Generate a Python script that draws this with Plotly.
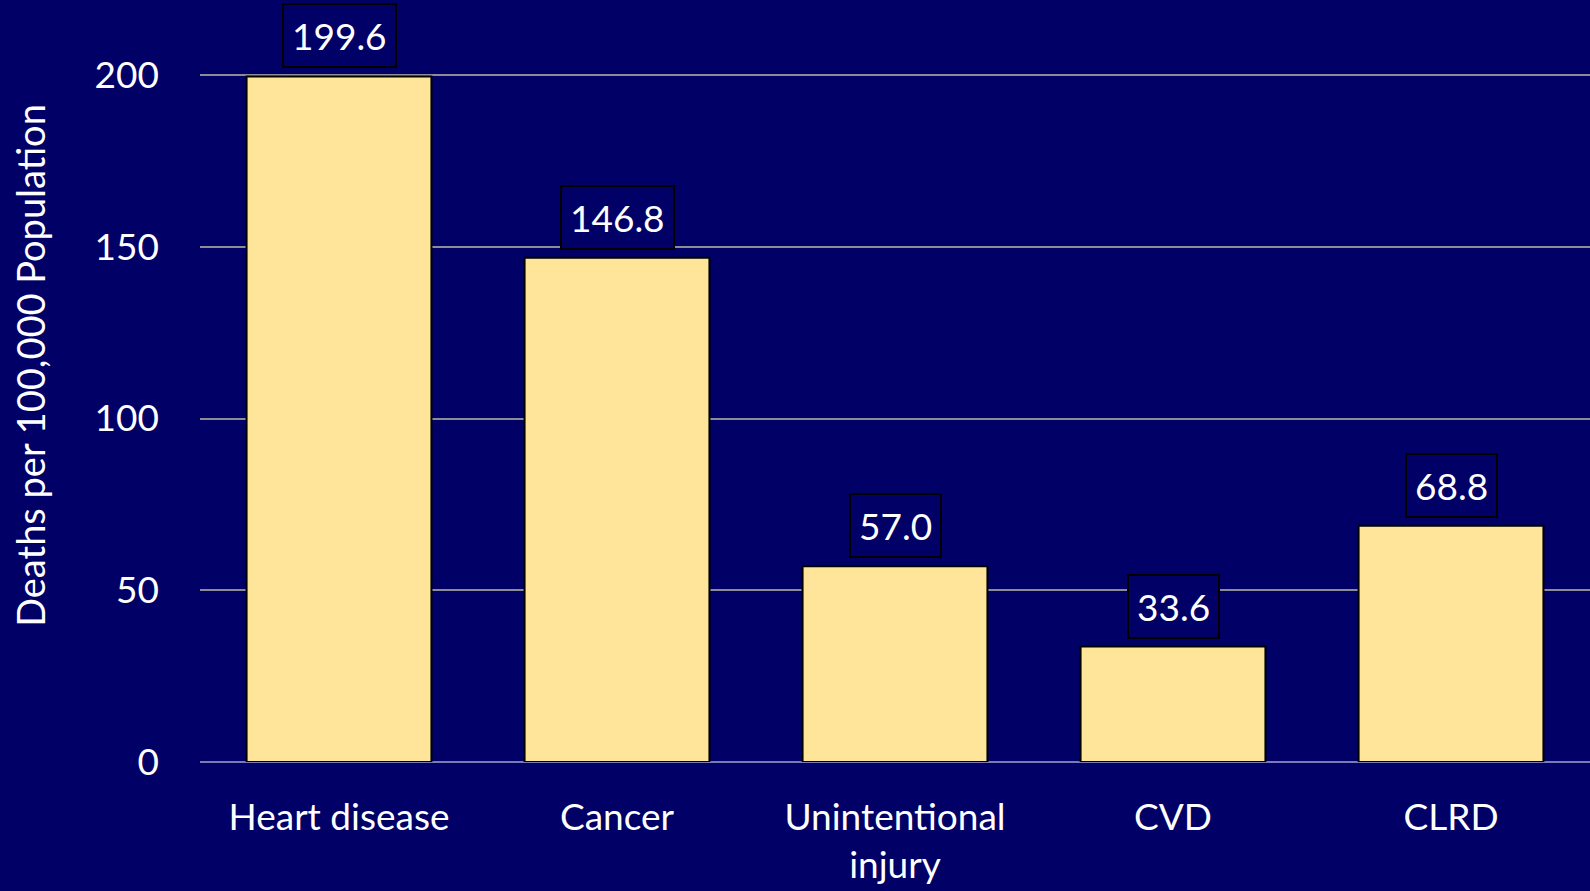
import plotly.graph_objects as go

categories = ["Heart disease", "Cancer", "Unintentional<br>injury", "CVD", "CLRD"]
values = [199.6, 146.8, 57.0, 33.6, 68.8]
tick_vals = [0, 50, 100, 150, 200]
y_title = "Deaths per 100,000 Population"

BG = "#000066"
FONT = "Lato"

fig = go.Figure()
fig.add_trace(go.Bar(
    x=categories, y=values,
    marker=dict(color="#FFE599", line=dict(color="black", width=2)),
    showlegend=False, hoverinfo="skip",
))

for c, v in zip(categories, values):
    fig.add_annotation(
        x=c, y=v, text=f"{v:.1f}", showarrow=False,
        yanchor="bottom", yshift=8,
        font=dict(family=FONT, size=37, color="white"),
        bgcolor=BG, bordercolor="black", borderwidth=2, borderpad=8,
    )

fig.add_annotation(
    xref="paper", yref="paper", x=-0.1223, y=0.575,
    text=y_title, textangle=-90, showarrow=False,
    font=dict(family=FONT, size=38, color="white"),
    xanchor="center", yanchor="middle",
)

fig.update_layout(
    width=1590, height=891,
    paper_bgcolor=BG, plot_bgcolor=BG,
    margin=dict(l=200, r=0, t=73, b=129),
    bargap=0.335,
    font=dict(family=FONT, size=37, color="white"),
    xaxis=dict(showgrid=False, showline=False, ticks="", ticklabelstandoff=30,
               tickfont=dict(family=FONT, size=37, color="white")),
    yaxis=dict(range=[0, 200.6], tickvals=tick_vals, showgrid=True,
               gridcolor="#8c8c96", gridwidth=1.5,
               zeroline=True, zerolinecolor="#7a7ab8", zerolinewidth=2,
               showline=False, ticks="", ticklabelstandoff=40,
               tickfont=dict(family=FONT, size=37, color="white")),
)

fig.write_html("out.html", config={"displayModeBar": False},
               post_script="document.body.style.margin='0px';document.body.style.background='#000066';")
